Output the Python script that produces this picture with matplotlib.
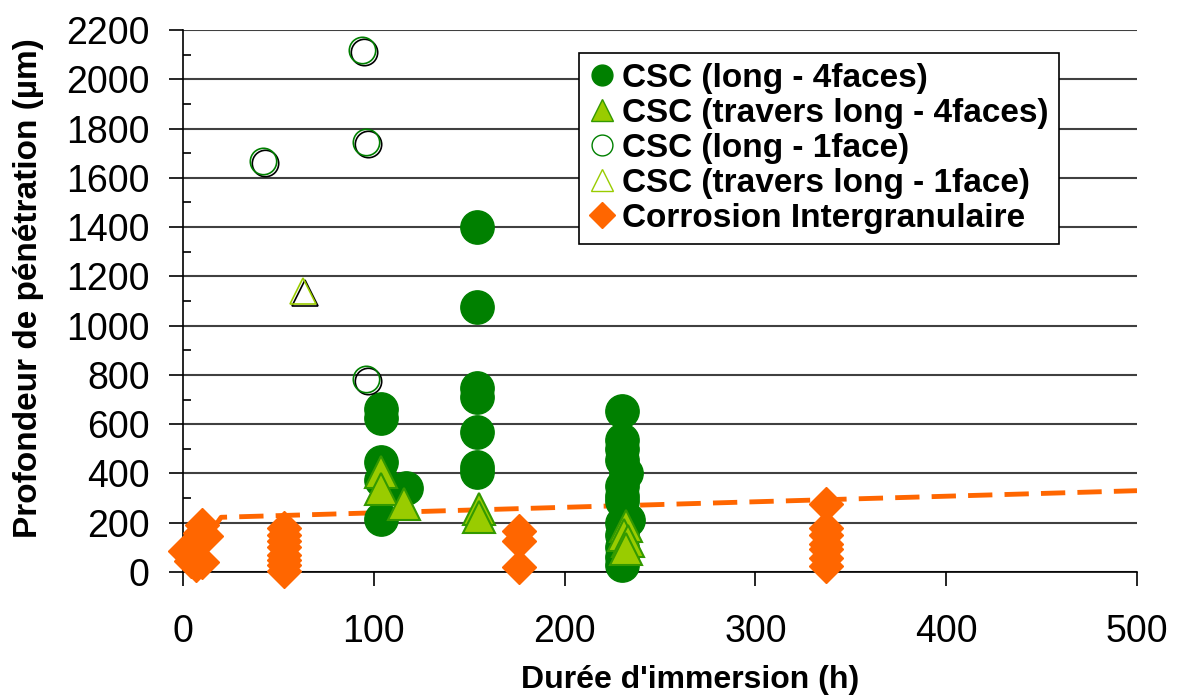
import numpy as np
import matplotlib
matplotlib.use('Agg')
import matplotlib.pyplot as plt
import matplotlib.transforms as mtransforms
from matplotlib.lines import Line2D

plt.rcParams['font.family'] = ['Liberation Sans', 'DejaVu Sans']

# ── data ─────────────────────────────────────────────────────────────────────
# CSC (long - 4faces)
csc_long4_x = [104, 104, 104, 104, 104, 117,
               154, 154, 154, 154, 154, 154, 154,
               230, 230, 230, 230, 232, 230, 230, 230, 233, 230, 230, 230, 230, 230]
csc_long4_y = [660, 625, 445, 372, 215, 340,
               1400, 1075, 745, 712, 570, 425, 405,
               655, 535, 500, 455, 400, 350, 310, 290, 210, 200, 150, 100, 60, 30]
# CSC (travers long - 4faces)
csc_trav4_x = [104, 104, 116, 155, 155, 232, 231, 233, 232]
csc_trav4_y = [405, 335, 275, 255, 225, 185, 150, 125, 95]
# CSC (long - 1face)
csc_long1_x = [42, 94, 96, 96]
csc_long1_y = [1668, 2118, 1745, 785]
# CSC (travers long - 1face)
csc_trav1_x = [63]
csc_trav1_y = [1140]
# Corrosion intergranulaire
cig_x = [1, 4, 5, 6, 7, 8, 9, 10, 10, 12, 6,
         53, 53, 53, 53, 53, 53, 53, 53,
         176, 176, 176,
         337, 337, 337, 337, 337, 337, 337]
cig_y = [85, 45, 65, 105, 30, 130, 160, 190, 40, 145, 55,
         180, 150, 125, 100, 70, 50, 30, 5,
         165, 125, 20,
         277, 178, 150, 115, 95, 55, 25]
# dashed trend line of intergranular corrosion
trend_x = [12, 18, 20, 100, 180, 260, 340, 420, 500]
trend_y = [190, 200, 222, 240, 258, 276, 294, 312, 330]

DKGREEN = "#008000"
LTGREEN = "#99CC00"
ORANGE = "#FF6600"

fig = plt.figure(figsize=(11.78, 6.96), dpi=100)
ax = fig.add_axes([0.1553, 0.1782, 0.8099, 0.7787])

ax.plot(trend_x, trend_y, ls=(0, (5, 2.5)), color=ORANGE, lw=3.5, zorder=2)

ax.plot(cig_x, cig_y, ls="none", marker="D", ms=17, color=ORANGE, mec=ORANGE,
        clip_on=False, zorder=3)
ax.plot(csc_long4_x, csc_long4_y, ls="none", marker="o", ms=24, color=DKGREEN,
        mec=DKGREEN, clip_on=False, zorder=4)
ax.plot(csc_trav4_x, csc_trav4_y, ls="none", marker="^", ms=23, color=LTGREEN,
        mec="#339900", mew=1.5, clip_on=False, zorder=5)

# open markers drawn with a black shadow slightly offset
shadow = mtransforms.offset_copy(ax.transData, fig=fig, x=1.5, y=-1.5, units="points")
ax.plot(csc_long1_x, csc_long1_y, ls="none", marker="o", ms=19, mfc="none",
        mec="black", mew=1.2, transform=shadow, zorder=5)
ax.plot(csc_long1_x, csc_long1_y, ls="none", marker="o", ms=19, mfc="none",
        mec=DKGREEN, mew=1.2, zorder=6)
ax.plot(csc_trav1_x, csc_trav1_y, ls="none", marker="^", ms=19, mfc="none",
        mec="black", mew=1.2, transform=shadow, zorder=5)
ax.plot(csc_trav1_x, csc_trav1_y, ls="none", marker="^", ms=19, mfc="none",
        mec=LTGREEN, mew=1.2, zorder=6)

ax.set_xlim(0, 500)
ax.set_ylim(0, 2200)
ax.set_xticks(range(0, 501, 100))
ax.set_yticks(range(0, 2201, 200))
ax.set_yticks(range(100, 2200, 200), minor=True)
ax.yaxis.grid(True, color="#404040", lw=1.5)
ax.set_axisbelow(True)
for s in ["top", "right"]:
    ax.spines[s].set_visible(False)
ax.spines["left"].set_linewidth(1.2)
ax.spines["bottom"].set_linewidth(1.2)
ax.tick_params(axis="y", which="major", direction="out", length=10, width=1.2,
               labelsize=27, pad=14)
ax.tick_params(axis="y", which="minor", direction="in", length=6, width=1.2)
ax.tick_params(axis="x", which="major", direction="out", length=10, width=1.2,
               labelsize=27, pad=20)

ax.set_xlabel("Durée d'immersion (h)", fontsize=23, fontweight="bold")
ax.set_ylabel("Profondeur de pénétration (µm)", fontsize=24, fontweight="bold")
ax.xaxis.set_label_coords(0.532, -0.172)
ax.yaxis.set_label_coords(-0.146, 0.524)

handles = [
    Line2D([], [], ls="none", marker="o", ms=15, color=DKGREEN, mec=DKGREEN),
    Line2D([], [], ls="none", marker="^", ms=16, color=LTGREEN, mec="#339900"),
    Line2D([], [], ls="none", marker="o", ms=15, mfc="none", mec=DKGREEN),
    Line2D([], [], ls="none", marker="^", ms=16, mfc="none", mec=LTGREEN),
    Line2D([], [], ls="none", marker="D", ms=13, color=ORANGE, mec=ORANGE),
]
labels = ["CSC (long - 4faces)", "CSC (travers long - 4faces)", "CSC (long - 1face)",
          "CSC (travers long - 1face)", "Corrosion Intergranulaire"]
leg = ax.legend(handles, labels, loc="upper right", bbox_to_anchor=(0.918, 0.958),
                prop={"size": 24, "weight": "bold"}, frameon=True, fancybox=False,
                edgecolor="black", framealpha=1, handlelength=0.8, handletextpad=0.2,
                labelspacing=0.12, borderpad=0.3, borderaxespad=0)
leg.get_frame().set_linewidth(1.2)

fig.savefig("out.png", dpi=100)
